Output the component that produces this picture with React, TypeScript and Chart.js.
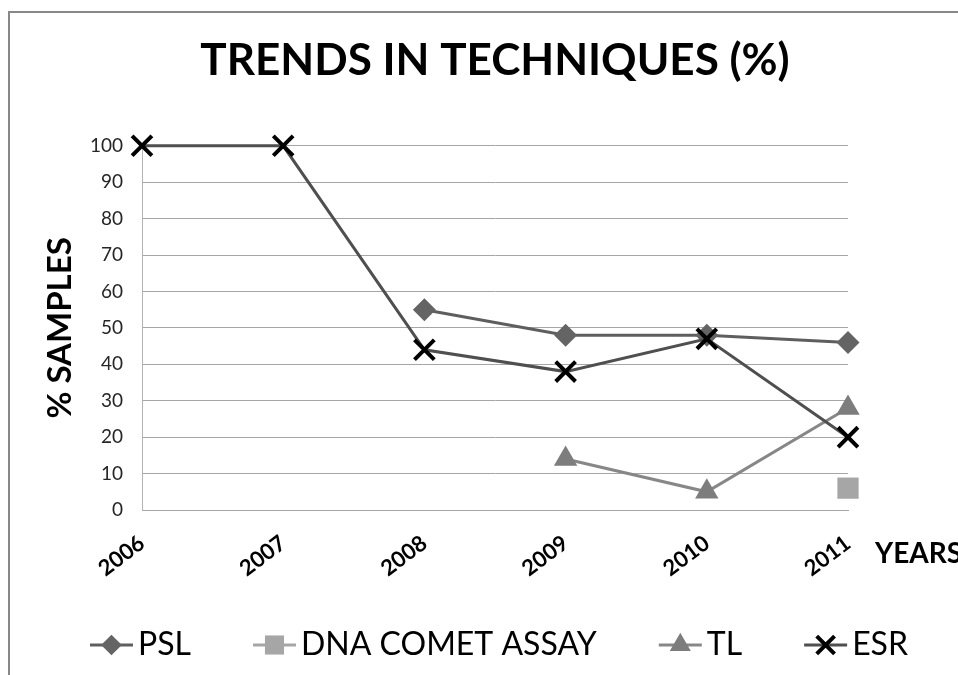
import React, { useEffect, useRef } from "react";
import { Chart, registerables } from "chart.js";
import { drawPoint } from "chart.js/helpers";

Chart.register(...registerables);

const YEARS = ["2006", "2007", "2008", "2009", "2010", "2011"];
const PSL = [null, null, 55, 48, 48, 46];
const DNA_COMET = [null, null, null, null, null, 6];
const TL = [null, null, null, 14, 5, 28];
const ESR = [100, 100, 44, 38, 47, 20];

const TITLE = "TRENDS IN TECHNIQUES (%)";
const Y_TITLE = "% SAMPLES";
const X_TITLE = "YEARS";
const FONT = "Lato, 'Open Sans', sans-serif";

const decorPlugin = {
  id: "decor",
  beforeDraw(chart: any) {
    const ctx = chart.ctx;
    ctx.save();
    ctx.fillStyle = "#ffffff";
    ctx.fillRect(0, 0, chart.width, chart.height);
    ctx.strokeStyle = "#888888";
    ctx.lineWidth = 2;
    ctx.beginPath();
    ctx.moveTo(9, chart.height + 5);
    ctx.lineTo(9, 12);
    ctx.lineTo(chart.width + 5, 12);
    ctx.stroke();
    ctx.restore();
  },
  afterDraw(chart: any) {
    const ctx = chart.ctx;
    const area = chart.chartArea;
    ctx.save();
    // x-axis title to the right of the last tick
    ctx.font = `bold 28px ${FONT}`;
    ctx.fillStyle = "#000";
    ctx.textAlign = "left";
    ctx.textBaseline = "middle";
    ctx.fillText(X_TITLE, area.right + 27, area.bottom + 44);

    // legend: line + marker + label
    ctx.font = `32px ${FONT}`;
    const lineLen = 43;
    const gapText = 5;
    const gapItem = 62;
    const items = chart.data.datasets.map((ds: any) => ({
      ds,
      w: lineLen + gapText + ctx.measureText(ds.label).width,
    }));
    const total =
      items.reduce((s: number, it: any) => s + it.w, 0) + gapItem * (items.length - 1);
    let x = (area.left + area.right) / 2 + 4 - total / 2;
    const y = area.bottom + 135;
    for (const it of items) {
      const ds = it.ds;
      ctx.strokeStyle = ds.borderColor;
      ctx.lineWidth = 3;
      ctx.beginPath();
      ctx.moveTo(x, y);
      ctx.lineTo(x + lineLen, y);
      ctx.stroke();
      ctx.fillStyle = ds.pointBackgroundColor;
      ctx.strokeStyle = ds.pointBorderColor;
      ctx.lineWidth = ds.pointBorderWidth;
      drawPoint(
        ctx,
        {
          pointStyle: ds.pointStyle,
          radius: ds.pointRadius * 0.9,
          rotation: 0,
          borderWidth: ds.pointBorderWidth,
        },
        x + lineLen / 2,
        y
      );
      ctx.fillStyle = "#000";
      ctx.textAlign = "left";
      ctx.textBaseline = "middle";
      ctx.fillText(ds.label, x + lineLen + gapText, y);
      x += it.w + gapItem;
    }
    ctx.restore();
  },
};

export default function App() {
  const ref = useRef<HTMLCanvasElement | null>(null);

  useEffect(() => {
    if (!ref.current) return;
    const chart = new Chart(ref.current, {
      type: "line",
      data: {
        labels: YEARS,
        datasets: [
          {
            label: "PSL",
            data: PSL,
            borderColor: "#5e5e5e",
            backgroundColor: "#646464",
            pointBackgroundColor: "#646464",
            pointBorderColor: "#646464",
            pointBorderWidth: 0,
            pointStyle: "rectRot",
            pointRadius: 11.5,
            borderWidth: 3,
            clip: false,
            order: 3,
          },
          {
            label: "DNA COMET ASSAY",
            data: DNA_COMET,
            borderColor: "#a6a6a6",
            backgroundColor: "#a6a6a6",
            pointBackgroundColor: "#a6a6a6",
            pointBorderColor: "#a6a6a6",
            pointBorderWidth: 0,
            pointStyle: "rect",
            pointRadius: 15,
            borderWidth: 3,
            clip: false,
            order: 2,
          },
          {
            label: "TL",
            data: TL,
            borderColor: "#878787",
            backgroundColor: "#7d7d7d",
            pointBackgroundColor: "#7d7d7d",
            pointBorderColor: "#7d7d7d",
            pointBorderWidth: 0,
            pointStyle: "triangle",
            pointRadius: 13.5,
            borderWidth: 3,
            clip: false,
            order: 1,
          },
          {
            label: "ESR",
            data: ESR,
            borderColor: "#4f4f4f",
            backgroundColor: "#000000",
            pointBackgroundColor: "#000000",
            pointBorderColor: "#000000",
            pointBorderWidth: 4,
            pointStyle: "crossRot",
            pointRadius: 14,
            borderWidth: 3,
            clip: false,
            order: 0,
          },
        ],
      },
      options: {
        responsive: false,
        animation: false,
        spanGaps: false,
        layout: { padding: { left: 10, right: 110, top: 0, bottom: 0 } },
        elements: { line: { tension: 0 } },
        plugins: {
          legend: { display: false },
          tooltip: { enabled: false },
          title: {
            display: true,
            fullSize: false,
            text: TITLE,
            color: "#000",
            font: { family: FONT, size: 44, weight: "bold" },
            padding: { top: 34, bottom: 59 },
          },
        },
        scales: {
          x: {
            offset: false,
            grid: { display: false, drawTicks: false },
            border: { display: true, color: "#a6a6a6" },
            ticks: {
              minRotation: 37,
              maxRotation: 37,
              padding: 20,
              color: "#000",
              font: { family: FONT, size: 22, weight: "bold" },
            },
            afterFit(s: any) {
              s.height = 165;
            },
          },
          y: {
            min: 0,
            max: 100,
            ticks: {
              stepSize: 10,
              padding: 19,
              color: "#262626",
              font: { family: FONT, size: 19 },
            },
            grid: { color: "#a6a6a6", drawTicks: false, lineWidth: 1 },
            border: { display: true, color: "#b3b3b3" },
            title: {
              display: true,
              text: Y_TITLE,
              color: "#000",
              font: { family: FONT, size: 33, weight: "bold" },
              padding: { top: 31, bottom: 0 },
            },
            afterFit(s: any) {
              s.width = 132;
            },
          },
        },
      },
      plugins: [decorPlugin],
    });
    return () => chart.destroy();
  }, []);

  return (
    <div style={{ position: "absolute", left: 0, top: 0, width: 958, height: 675 }}>
      <canvas ref={ref} width={958} height={675} style={{ display: "block" }} />
    </div>
  );
}
